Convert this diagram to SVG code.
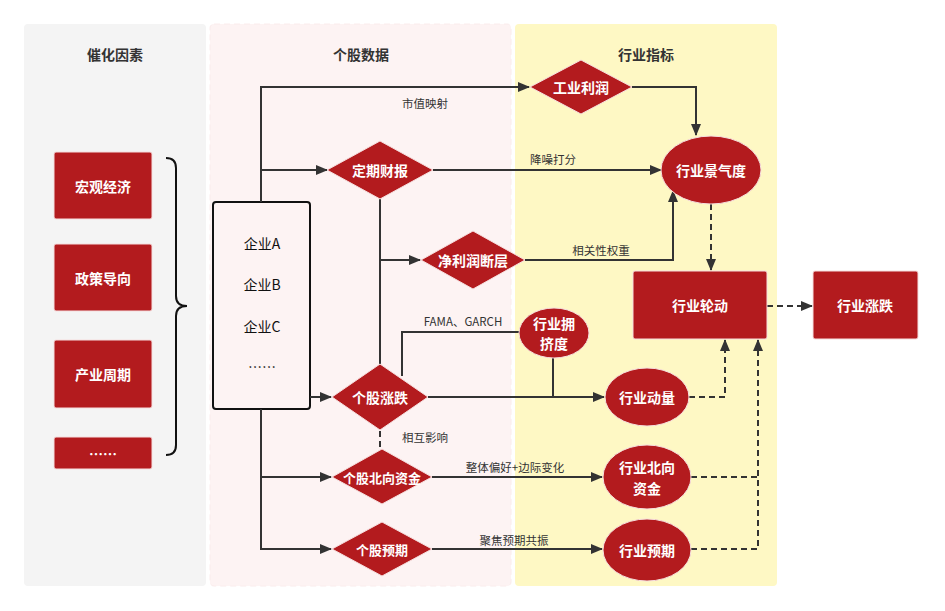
<svg xmlns="http://www.w3.org/2000/svg" width="945" height="611" viewBox="0 0 945 611">
<defs>
<style>
.lane-t{font-family:"Noto Sans CJK SC","Liberation Sans",sans-serif;font-size:14px;font-weight:bold;fill:#333;text-anchor:middle}
.nt{font-family:"Noto Sans CJK SC","Liberation Sans",sans-serif;font-size:14px;font-weight:bold;fill:#fff;text-anchor:middle;dominant-baseline:central}
.node{fill:#b31b1e;stroke:#f6dede;stroke-width:1}
.co{font-family:"Noto Sans CJK SC","Liberation Sans",sans-serif;font-size:14px;fill:#111;text-anchor:middle;dominant-baseline:central}
.lbl{font-family:"Noto Sans CJK SC","Liberation Sans",sans-serif;font-size:11.5px;fill:#333;text-anchor:middle}
.ln{fill:none;stroke:#333;stroke-width:2}
.dash{fill:none;stroke:#333;stroke-width:2;stroke-dasharray:6 4}
</style>
<marker id="ah" markerUnits="userSpaceOnUse" markerWidth="12" markerHeight="10" refX="11" refY="5" orient="auto">
<path d="M0,0 L12,5 L0,10 z" fill="#333"/>
</marker>
</defs>
<rect width="945" height="611" fill="#fff"/>
<g id="lanes">
<rect x="24" y="24" width="182" height="562" rx="4" fill="#f4f4f4"/>
<rect x="210" y="24" width="301" height="562" rx="4" fill="#fdf3f3" stroke="#faecec" stroke-dasharray="6 4"/>
<rect x="515" y="24" width="262" height="562" rx="4" fill="#fef8c4"/>
<text class="lane-t" x="115" y="60">催化因素</text>
<text class="lane-t" x="361" y="60">个股数据</text>
<text class="lane-t" x="646" y="60">行业指标</text>
</g>
<g id="macro"><rect class="node" x="54" y="152" width="98" height="67" rx="2"/><text class="nt" x="103" y="186">宏观经济</text></g>
<g id="policy"><rect class="node" x="54" y="244" width="98" height="67" rx="2"/><text class="nt" x="103" y="278">政策导向</text></g>
<g id="cycle"><rect class="node" x="54" y="340" width="98" height="68" rx="2"/><text class="nt" x="103" y="374">产业周期</text></g>
<g id="more"><rect class="node" x="54" y="437" width="98" height="32" rx="2"/><text class="nt" x="103" y="453">……</text></g>
<g id="brace"><path d="M166,158 Q176,158 176,168 L176,296 Q176,306 187,306 Q176,306 176,316 L176,445 Q176,455 166,455" fill="none" stroke="#111" stroke-width="2"/></g>
<g id="companies">
<rect x="213" y="202" width="97" height="207" rx="3" fill="#fdf3f3" stroke="#111" stroke-width="2"/>
<text class="co" x="262" y="243">企业A</text>
<text class="co" x="262" y="284">企业B</text>
<text class="co" x="262" y="326">企业C</text>
<text class="co" x="262" y="366">……</text>
</g>
<g id="connectors">
<path class="ln" d="M261,202 L261,87 L529,87" marker-end="url(#ah)"/>
<path class="ln" d="M261,170 L327,170" marker-end="url(#ah)"/>
<path class="ln" d="M310,397 L331,397" marker-end="url(#ah)"/>
<path class="ln" d="M261,409 L261,549 L331,549" marker-end="url(#ah)"/>
<path class="ln" d="M261,477 L331,477" marker-end="url(#ah)"/>
<path class="ln" d="M380,199 L380,364"/>
<path class="ln" d="M380,260 L420,260" marker-end="url(#ah)"/>
<path class="ln" d="M433,170 L661,170" marker-end="url(#ah)"/>
<path class="ln" d="M632,87 L696,87 L696,135" marker-end="url(#ah)"/>
<path class="ln" d="M525,260 L673,260 L673,191" marker-end="url(#ah)"/>
<path class="dash" d="M711,204 L711,270" marker-end="url(#ah)"/>
<path class="dash" d="M767,306 L812,306" marker-end="url(#ah)"/>
<path class="ln" d="M402,376 L402,332 L520,332"/>
<path class="ln" d="M553,357 L553,397"/>
<path class="ln" d="M428,397 L604,397" marker-end="url(#ah)"/>
<path class="dash" d="M380,431 L380,448"/>
<path class="ln" d="M432,477 L602,477" marker-end="url(#ah)"/>
<path class="ln" d="M432,549 L602,549" marker-end="url(#ah)"/>
<path class="dash" d="M689,397 L725,397 L725,340" marker-end="url(#ah)"/>
<path class="dash" d="M691,477 L758,477"/>
<path class="dash" d="M691,549 L758,549 L758,340" marker-end="url(#ah)"/>
<text class="lbl" x="425" y="108">市值映射</text>
<text class="lbl" x="553" y="164">降噪打分</text>
<text class="lbl" x="601" y="255">相关性权重</text>
<text class="lbl" x="463" y="326">FAMA、GARCH</text>
<text class="lbl" x="425" y="442">相互影响</text>
<text class="lbl" x="515" y="472">整体偏好+边际变化</text>
<text class="lbl" x="514" y="545">聚焦预期共振</text>
</g>
<g id="ind-profit"><polygon class="node" points="530,87 581,60 632,87 581,114"/><text class="nt" x="581" y="87">工业利润</text></g>
<g id="report"><polygon class="node" points="327,170 380,141 433,170 380,199"/><text class="nt" x="380" y="170">定期财报</text></g>
<g id="np-gap"><polygon class="node" points="421,260 473,231 525,260 473,289"/><text class="nt" x="473" y="260">净利润断层</text></g>
<g id="stock-move"><polygon class="node" points="332,397 380,364 428,397 380,430"/><text class="nt" x="380" y="397">个股涨跌</text></g>
<g id="stock-north"><polygon class="node" points="332,477 382,449 432,477 382,504"/><text class="nt" x="382" y="477" style="font-size:13px">个股北向资金</text></g>
<g id="stock-expect"><polygon class="node" points="332,549 382,522 432,549 382,576"/><text class="nt" x="382" y="549" style="font-size:13px">个股预期</text></g>
<g id="prosperity"><ellipse class="node" cx="711" cy="170" rx="50" ry="34"/><text class="nt" x="711" y="170">行业景气度</text></g>
<g id="crowding"><ellipse class="node" cx="554" cy="333" rx="35" ry="25"/><text class="nt" x="554" y="323">行业拥</text><text class="nt" x="554" y="343">挤度</text></g>
<g id="momentum"><ellipse class="node" cx="647" cy="397" rx="42" ry="29"/><text class="nt" x="647" y="397">行业动量</text></g>
<g id="ind-north"><ellipse class="node" cx="647" cy="477" rx="44" ry="32"/><text class="nt" x="647" y="467">行业北向</text><text class="nt" x="647" y="488">资金</text></g>
<g id="ind-expect"><ellipse class="node" cx="647" cy="550" rx="44" ry="31"/><text class="nt" x="647" y="550">行业预期</text></g>
<g id="rotation"><rect class="node" x="633" y="271" width="134" height="68" rx="2"/><text class="nt" x="700" y="305">行业轮动</text></g>
<g id="ind-move"><rect class="node" x="813" y="271" width="105" height="68" rx="2"/><text class="nt" x="865" y="305">行业涨跌</text></g>
</svg>
